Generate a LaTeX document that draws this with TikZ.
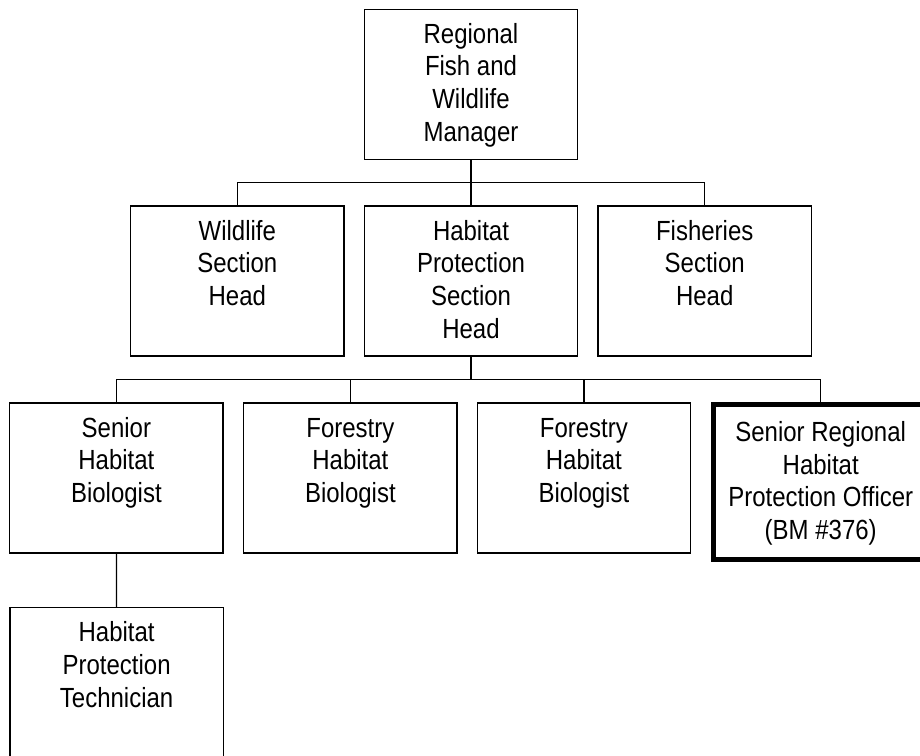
\documentclass[tikz,border=0pt]{standalone}
\usepackage{fontspec}
\setmainfont[FakeStretch=0.866]{Liberation Sans}
\newcommand{\normbox}[1]{\parbox[c][150pt][t]{213.3pt}{\centering\rule{0pt}{34pt}\ignorespaces#1}}
\newcommand{\thickbox}[1]{\parbox[c][155pt][t]{214.7pt}{\centering\rule{0pt}{37pt}\ignorespaces#1}}
\tikzset{
  orgbox/.style={draw=black, line width=1.3pt, inner sep=0pt, outer sep=0pt, fill=white,
    font=\fontsize{27.7}{32.7}\selectfont},
  keybox/.style={orgbox, line width=4.7pt},
  link/.style={draw=black, line width=1.3pt}
}
\begin{document}
\begin{tikzpicture}[x=1pt,y=-1pt]
\useasboundingbox (0,0) rectangle (920,755);
\clip (0,0) rectangle (920,755);
\fill[white] (0,0) rectangle (920,755);
% nodes
\node[orgbox] (top)  at (471,84.2)  {\normbox{Regional\\Fish and\\Wildlife\\Manager}};
\node[orgbox] (wild) at (237.3,281) {\normbox{Wildlife\\Section\\Head}};
\node[orgbox] (hab)  at (471,281)   {\normbox{Habitat\\Protection\\Section\\Head}};
\node[orgbox] (fish) at (704.7,281) {\normbox{Fisheries\\Section\\Head}};
\node[orgbox] (sen)  at (116.4,478) {\normbox{Senior\\Habitat\\Biologist}};
\node[orgbox] (forA) at (350.4,478) {\normbox{Forestry\\Habitat\\Biologist}};
\node[orgbox] (forB) at (583.9,478) {\normbox{Forestry\\Habitat\\Biologist}};
\node[keybox] (off)  at (820.7,481.8) {\thickbox{Senior Regional\\Habitat\\Protection Officer\\(BM \#376)}};
\node[orgbox] (tech) at (116.6,682.7) {\normbox{Habitat\\Protection\\Technician}};
% bus coordinates
\coordinate (busA) at (471,182.3);
\coordinate (busB) at (471,379.3);
% connectors
\draw[link] (top.south) -- (hab.north);
\draw[link] (wild.north) |- (busA) -| (fish.north);
\draw[link] (hab.south) -- (busB);
\draw[link] (sen.north) |- (busB) -| (off.north);
\draw[link] (forA.north) -- (forA.north |- busB);
\draw[link] (forB.north) -- (forB.north |- busB);
\draw[link] (sen.south) -- (tech.north);
\end{tikzpicture}
\end{document}
